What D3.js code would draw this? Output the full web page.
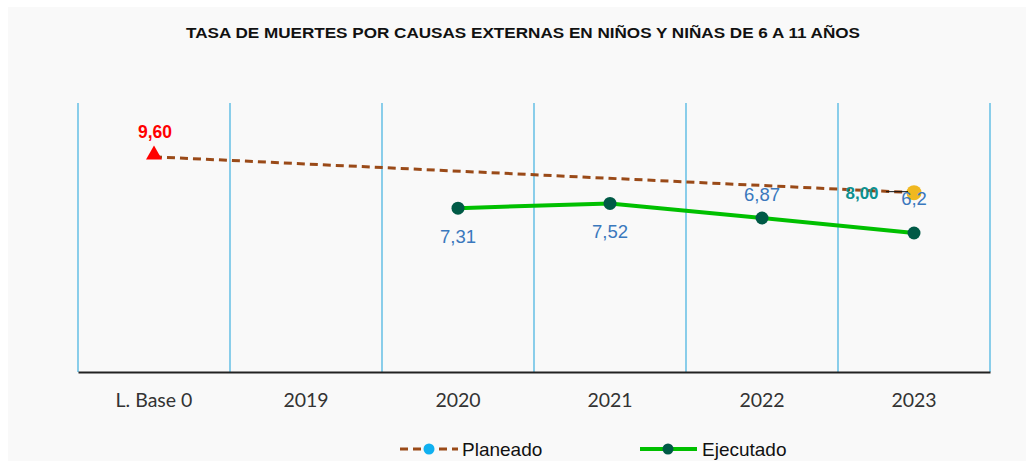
<!DOCTYPE html>
<html><head><meta charset="utf-8">
<script src="https://cdn.jsdelivr.net/npm/d3@7"></script>
<style>body{margin:0;background:#fff}</style>
</head><body>
<svg id="c" width="1026" height="461"></svg>
<script>
const categories = ["L. Base 0","2019","2020","2021","2022","2023"];
const planeado = [9.60, null, null, null, null, 8.00];
const ejecutado = [null, null, 7.31, 7.52, 6.87, 6.2];
const ejecutadoLabels = ["", "", "7,31", "7,52", "6,87", "6,2"];
const planeadoLabels = ["9,60", "", "", "", "", "8,00"];
const yTicks = [0, 12];
const title = "TASA DE MUERTES POR CAUSAS EXTERNAS EN NIÑOS Y NIÑAS DE 6 A 11 AÑOS";

const svg = d3.select("#c");
svg.append("rect").attr("x",8).attr("y",7).attr("width",1018).attr("height",454).attr("fill","#f9f9f9");

const L=78, R=990, T=103, B=372;
const x = d3.scaleBand().domain(categories).range([L,R]).padding(0);
const y = d3.scaleLinear().domain(d3.extent(yTicks)).range([B,T]);

svg.append("text").attr("x",523).attr("y",38).attr("text-anchor","middle")
  .attr("font-family","Liberation Sans, Arial, sans-serif").attr("font-weight","bold")
  .attr("font-size",14).attr("fill","#111").attr("textLength",674).attr("lengthAdjust","spacingAndGlyphs")
  .text(title);

// vertical gridlines at band boundaries
const bounds = categories.map(c=>x(c)).concat([R]);
svg.append("g").selectAll("line").data(bounds).join("line")
  .attr("x1",d=>d).attr("x2",d=>d).attr("y1",T).attr("y2",B)
  .attr("stroke","#3fb0e0").attr("stroke-width",1.2);

// x axis
const xa = svg.append("g").attr("transform",`translate(0,${B})`).call(d3.axisBottom(x).tickSize(0).tickPadding(21));
xa.select(".domain").attr("stroke","#222").attr("stroke-width",2.2);
xa.selectAll("text").attr("font-family","Lato, Carlito, sans-serif").attr("font-size",19.5).attr("fill","#333");

const cx = c=>x(c)+x.bandwidth()/2;

// planned dashed line
const pData = categories.map((c,i)=>({c,v:planeado[i],l:planeadoLabels[i]})).filter(d=>d.v!=null);
svg.append("path").datum(pData)
  .attr("d",d3.line().x(d=>cx(d.c)).y(d=>y(d.v)))
  .attr("fill","none").attr("stroke","#9a4a18").attr("stroke-width",3).attr("stroke-dasharray","8,5");

// executed line
const eData = categories.map((c,i)=>({c,v:ejecutado[i],l:ejecutadoLabels[i]})).filter(d=>d.v!=null);
svg.append("path").datum(eData)
  .attr("d",d3.line().x(d=>cx(d.c)).y(d=>y(d.v)))
  .attr("fill","none").attr("stroke","#00c000").attr("stroke-width",4);
svg.append("g").selectAll("circle").data(eData).join("circle")
  .attr("cx",d=>cx(d.c)).attr("cy",d=>y(d.v)).attr("r",6.5).attr("fill","#005a46");

// planned markers
const first = pData[0], last = pData[pData.length-1];
svg.append("path").attr("d",d3.symbol(d3.symbolTriangle,110)())
  .attr("transform",`translate(${cx(first.c)},${y(first.v)-2})`).attr("fill","#ff0000");
svg.append("circle").attr("cx",cx(last.c)).attr("cy",y(last.v)).attr("r",7.5).attr("fill","#f0b820");
// leader line
svg.append("line").attr("x1",cx(last.c)-28).attr("x2",cx(last.c)-6).attr("y1",y(last.v)-1).attr("y2",y(last.v)-1)
  .attr("stroke","#111").attr("stroke-width",1);

// planned labels
svg.append("text").attr("x",cx(first.c)+1).attr("y",y(first.v)-19).attr("text-anchor","middle")
  .attr("font-family","Liberation Sans, Arial, sans-serif").attr("font-weight","bold").attr("font-size",17.5)
  .attr("fill","#ff0000").text(first.l);
svg.append("text").attr("x",cx(last.c)-52).attr("y",y(last.v)+6).attr("text-anchor","middle")
  .attr("font-family","Liberation Sans, Arial, sans-serif").attr("font-weight","bold").attr("font-size",17)
  .attr("fill","#0d9090").text(last.l);

// executed labels
const eOff = {"2020":35,"2021":35,"2022":-17,"2023":-28};
svg.append("g").selectAll("text").data(eData).join("text")
  .attr("x",d=>cx(d.c)).attr("y",d=>y(d.v)+eOff[d.c]).attr("text-anchor","middle")
  .attr("font-family","Liberation Sans, Arial, sans-serif").attr("font-size",18.5).attr("fill","#3a78bd")
  .text(d=>d.l);

// legend
const lg = svg.append("g").attr("font-family","Liberation Sans, Arial, sans-serif").attr("font-size",19);
lg.append("line").attr("x1",400).attr("x2",458).attr("y1",449).attr("y2",449)
  .attr("stroke","#9a4a18").attr("stroke-width",3).attr("stroke-dasharray","8,5");
lg.append("circle").attr("cx",429).attr("cy",449).attr("r",5.5).attr("fill","#10b0f0");
lg.append("text").attr("x",462).attr("y",456).attr("fill","#111").text("Planeado");
lg.append("line").attr("x1",640).attr("x2",697).attr("y1",449).attr("y2",449)
  .attr("stroke","#00c000").attr("stroke-width",4);
lg.append("circle").attr("cx",668).attr("cy",449).attr("r",5.5).attr("fill","#005a46");
lg.append("text").attr("x",702).attr("y",456).attr("fill","#111").text("Ejecutado");
</script>
</body></html>
